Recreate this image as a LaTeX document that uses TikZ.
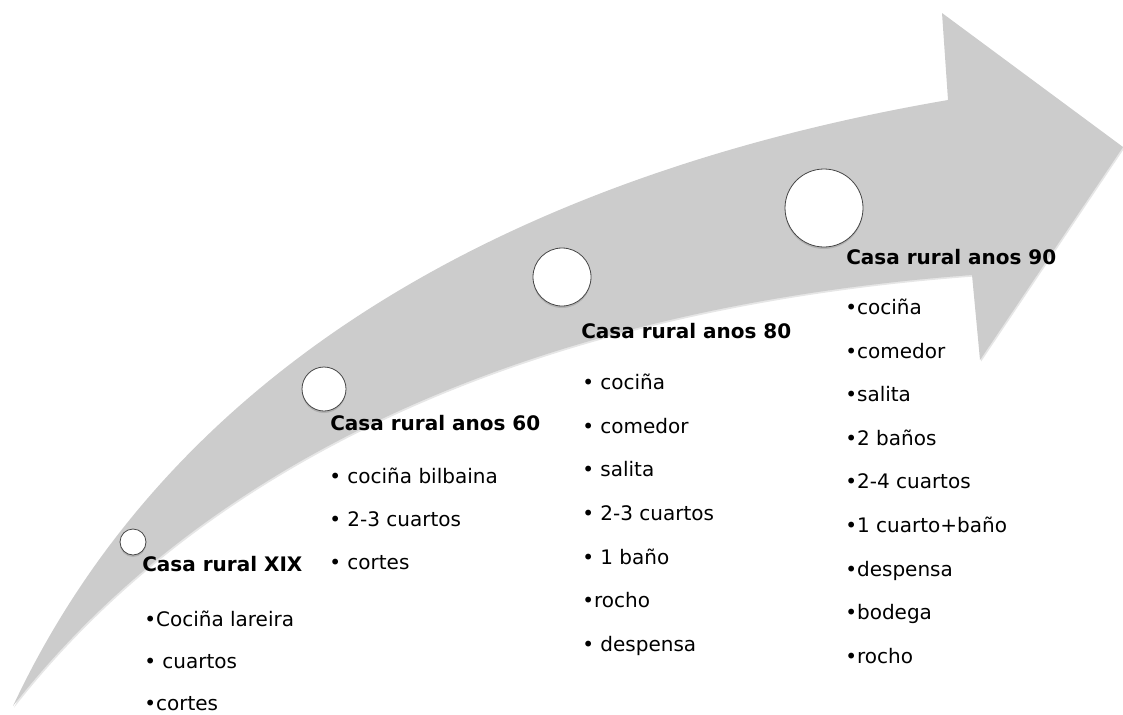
\documentclass[tikz,border=0pt]{standalone}
\usepackage{fontspec}
\setmainfont{DejaVu Sans}
\usetikzlibrary{shadows}
\definecolor{frechagris}{RGB}{204,204,204}
\definecolor{bordegris}{RGB}{70,70,70}

\begin{document}
\begin{tikzpicture}[x=0.75pt,y=-0.75pt,
		every node/.style={inner sep=0pt, anchor=base west, font=\fontsize{15}{18}\selectfont},
		titulo/.style={font=\fontsize{15}{18}\selectfont\bfseries},
		punto/.style={circle, anchor=center, draw=bordegris, line width=0.6pt, fill=white,
			drop shadow={opacity=0.35, shadow xshift=0pt, shadow yshift=-1.5pt}}]
		\useasboundingbox (0,0) rectangle (1123,714);
		% frecha curva
		\fill[frechagris, drop shadow={opacity=0.2, shadow xshift=0.8pt, shadow yshift=-1.2pt}]
			(13,706) .. controls (180,350) and (540,170) .. (948,100)
			-- (942,13) -- (1123,147) -- (980,360) -- (972,275)
			.. controls (500,310) and (190,480) .. (13,706) -- cycle;
		% circulos
		\node[punto, minimum size=19.5pt] (p1) at (133,542) {};
		\node[punto, minimum size=33pt] (p2) at (324,389) {};
		\node[punto, minimum size=43.5pt] (p3) at (562,277) {};
		\node[punto, minimum size=58.5pt] (p4) at (824,208) {};
		% primeira columna
		\node[titulo] (t1) at (142,571) {Casa rural XIX};
		\node (t1a) at (144,626) {•Cociña lareira};
		\node (t1b) at (144,668) {• cuartos};
		\node (t1c) at (144,710) {•cortes};
		% segunda columna
		\node[titulo] (t2) at (330,430) {Casa rural anos 60};
		\node (t2a) at (329,483) {• cociña bilbaina};
		\node (t2b) at (329,526) {• 2-3 cuartos};
		\node (t2c) at (329,569) {• cortes};
		% terceira columna
		\node[titulo] (t3) at (581,338) {Casa rural anos 80};
		\node (t3a) at (582,389) {• cociña};
		\node (t3b) at (582,433) {• comedor};
		\node (t3c) at (582,476) {• salita};
		\node (t3d) at (582,520) {• 2-3 cuartos};
		\node (t3e) at (582,564) {• 1 baño};
		\node (t3f) at (582,607) {•rocho};
		\node (t3g) at (582,651) {• despensa};
		% cuarta columna
		\node[titulo] (t4) at (846,264) {Casa rural anos 90};
		\node (t4a) at (845,314) {•cociña};
		\node (t4b) at (845,358) {•comedor};
		\node (t4c) at (845,401) {•salita};
		\node (t4d) at (845,445) {•2 baños};
		\node (t4e) at (845,488) {•2-4 cuartos};
		\node (t4f) at (845,532) {•1 cuarto+baño};
		\node (t4g) at (845,576) {•despensa};
		\node (t4h) at (845,619) {•bodega};
		\node (t4i) at (845,663) {•rocho};
\end{tikzpicture}
\end{document}
